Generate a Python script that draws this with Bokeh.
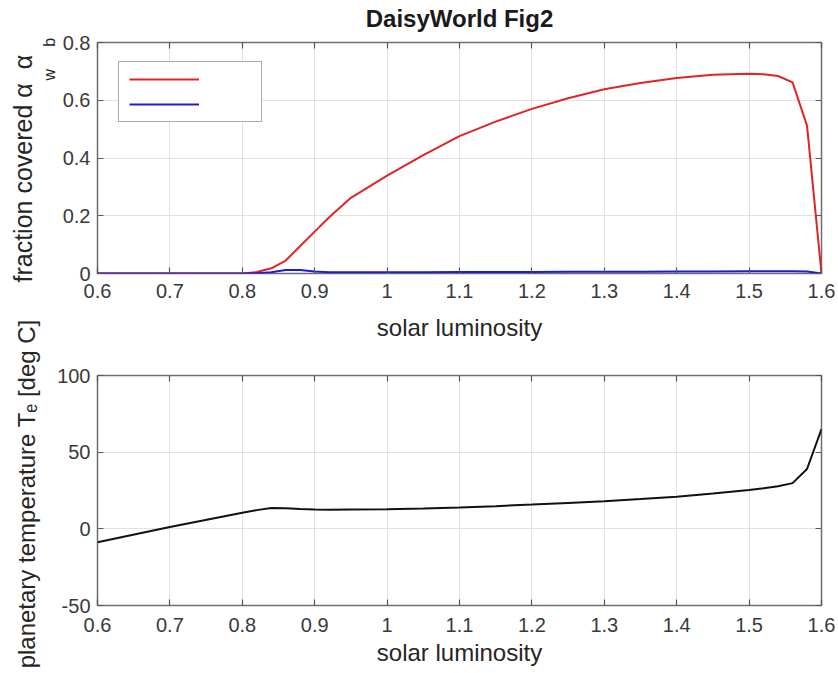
from bokeh.plotting import figure
from bokeh.layouts import column
from bokeh.models import (Legend, LegendItem, LinearAxis, FixedTicker,
                          PrintfTickFormatter, Range1d, Title)
from bokeh.embed import file_html
from bokeh.resources import INLINE

# ---------------- data ----------------
lum = [0.60, 0.70, 0.80, 0.82, 0.84, 0.86, 0.88, 0.90, 0.92, 0.95,
       1.00, 1.05, 1.10, 1.15, 1.20, 1.25, 1.30, 1.35, 1.40, 1.45,
       1.50, 1.52, 1.54, 1.56, 1.58, 1.60]
frac_white = [0.0, 0.0, 0.0, 0.005, 0.018, 0.045, 0.095, 0.145, 0.195, 0.262,
              0.339, 0.410, 0.476, 0.526, 0.570, 0.607, 0.638, 0.660, 0.677, 0.688,
              0.692, 0.690, 0.684, 0.662, 0.512, 0.0]
frac_black = [0.0, 0.0, 0.0, 0.001, 0.004, 0.012, 0.012, 0.007, 0.004, 0.004,
              0.004, 0.004, 0.005, 0.005, 0.005, 0.006, 0.006, 0.006, 0.007, 0.007,
              0.008, 0.008, 0.008, 0.008, 0.007, 0.0]
temp = [-8.7, 1.2, 10.5, 12.2, 13.6, 13.4, 12.9, 12.6, 12.5, 12.6,
        12.8, 13.3, 13.9, 14.8, 15.8, 16.9, 18.0, 19.4, 21.0, 23.0,
        25.4, 26.5, 27.8, 29.8, 39.0, 65.0]

x_ticks = [0.6, 0.7, 0.8, 0.9, 1.0, 1.1, 1.2, 1.3, 1.4, 1.5, 1.6]
y1_ticks = [0, 0.2, 0.4, 0.6, 0.8]
y2_ticks = [-50, 0, 50, 100]

title_text = "DaisyWorld Fig2"
xlabel_text = "solar luminosity"
NBSP = "\u00a0"
ylabel1_main = "fraction covered \u03b1" + NBSP * 2 + "\u03b1"
ylabel1_subs = "w" + NBSP * 5 + "b"
ylabel2_text = "planetary temperature T\u2091  [deg C]"

FONT = "Liberation Sans"
TICK_COLOR = "#555555"
LABEL_COLOR = "#3a3a3a"
AXLABEL_COLOR = "#262626"


def style_axis(ax, ticks):
    ax.ticker = FixedTicker(ticks=ticks)
    ax.formatter = PrintfTickFormatter(format="%g")
    ax.major_tick_in = 6
    ax.major_tick_out = 0
    ax.minor_tick_in = 0
    ax.minor_tick_out = 0
    ax.axis_line_color = None
    ax.major_tick_line_color = TICK_COLOR
    ax.major_tick_line_width = 1.2
    ax.major_label_text_font = FONT
    ax.major_label_text_font_size = "20px"
    ax.major_label_text_color = LABEL_COLOR


def mirror_axis(ticks):
    a = LinearAxis(ticker=FixedTicker(ticks=ticks),
                   formatter=PrintfTickFormatter(format="%g"))
    a.major_label_text_font_size = "0px"
    a.major_label_standoff = 0
    a.major_tick_in = 6
    a.major_tick_out = 0
    a.minor_tick_in = 0
    a.minor_tick_out = 0
    a.axis_line_color = None
    a.major_tick_line_color = TICK_COLOR
    a.major_tick_line_width = 1.2
    return a


def make_fig(frame_h, top, bottom, ylo, yhi, yticks, xstand):
    p = figure(frame_width=724, frame_height=frame_h,
               min_border_left=97, min_border_right=17,
               min_border_top=top, min_border_bottom=bottom,
               x_range=Range1d(0.6, 1.6), y_range=Range1d(ylo, yhi),
               output_backend="svg", toolbar_location=None)
    p.title = None
    p.background_fill_color = "white"
    p.border_fill_color = "white"
    p.outline_line_color = "#6e6e6e"
    p.outline_line_width = 1.5
    xa = p.below[0]
    ya = p.left[0]
    style_axis(xa, x_ticks)
    style_axis(ya, yticks)
    xa.major_label_standoff = xstand
    ya.major_label_standoff = 7
    p.xgrid.ticker = xa.ticker
    p.ygrid.ticker = ya.ticker
    for g in (p.xgrid[0], p.ygrid[0]):
        g.grid_line_color = "#e2e2e2"
        g.grid_line_width = 1
    top_ax = mirror_axis(x_ticks)
    p.add_layout(top_ax, "above")
    p.add_layout(mirror_axis(yticks), "right")
    return p, xa, ya, top_ax


# ---------------- top plot ----------------
p1, xa1, ya1, ta1 = make_fig(231, 42, 33, 0, 0.8, y1_ticks, 10)
# the chart title is carried by the upper (tick-only) axis of the top panel
ta1.axis_label = title_text
ta1.axis_label_text_font = FONT
ta1.axis_label_text_font_size = "24px"
ta1.axis_label_text_font_style = "bold"
ta1.axis_label_text_color = "#1a1a1a"
ta1.axis_label_standoff = 11

r_w = p1.line(lum, frac_white, line_color="#e02424", line_width=2)
r_b = p1.line(lum, frac_black, line_color="#1c1cd0", line_width=2)

legend = Legend(items=[LegendItem(label=" ", renderers=[r_w]),
                       LegendItem(label=" ", renderers=[r_b])],
                location=(21, 151))
legend.padding = 10
legend.spacing = 11
legend.glyph_width = 70
legend.glyph_height = 14
legend.label_height = 14
legend.label_width = 44
legend.label_standoff = 8
legend.label_text_font_size = "10px"
legend.border_line_color = "#555555"
legend.border_line_width = 1.5
legend.background_fill_color = "white"
legend.background_fill_alpha = 1.0
p1.add_layout(legend)

# y label of the top plot: main text + a row of subscripts (alpha_w alpha_b)
t_subs = Title(text=ylabel1_subs, align="left", offset=193, standoff=4,
               text_font=FONT, text_font_size="16px", text_font_style="normal",
               text_color=AXLABEL_COLOR)
t_main = Title(text=ylabel1_main, align="left", offset=-9, standoff=0,
               text_font=FONT, text_font_size="25px", text_font_style="normal",
               text_color=AXLABEL_COLOR)
p1.add_layout(t_subs, "left")
p1.add_layout(t_main, "left")

# ---------------- bottom plot ----------------
p2, xa2, ya2, ta2 = make_fig(230, 69, 68, -50, 100, y2_ticks, 12)
p2.line(lum, temp, line_color="#111111", line_width=2)
xa2.axis_label = xlabel_text
ya2.axis_label = ylabel2_text
# the x label of the upper panel sits in the gap between the two panels
ta2.axis_label = xlabel_text
for ax in (xa2, ya2, ta2):
    ax.axis_label_text_font = FONT
    ax.axis_label_text_font_size = "24px"
    ax.axis_label_text_font_style = "normal"
    ax.axis_label_text_color = AXLABEL_COLOR
xa2.axis_label_standoff = 4
ya2.axis_label_standoff = 14
ta2.axis_label_standoff = 35

layout = column(p1, p2, spacing=0)
open("out.html", "w").write(file_html(layout, INLINE))
